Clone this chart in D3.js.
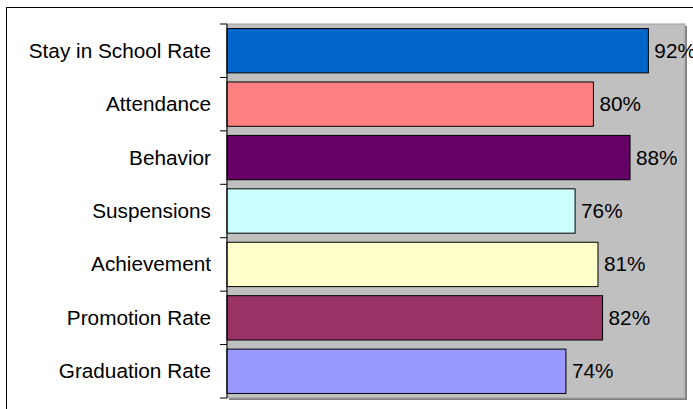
<!DOCTYPE html>
<html><head><meta charset="utf-8">
<script src="https://cdn.jsdelivr.net/npm/d3@7"></script>
<style>body{margin:0;background:#fff;}svg{display:block;}</style>
</head><body>
<svg id="c" width="693" height="409"></svg>
<script>
const categories = ["Stay in School Rate","Attendance","Behavior","Suspensions","Achievement","Promotion Rate","Graduation Rate"];
const values = [92, 80, 88, 76, 81, 82, 74];
const colors = ["#0066CC","#FF8080","#660066","#CCFFFF","#FFFFCC","#993366","#9999FF"];

(function(){
const svg = d3.select("#c");
const FONT = "Liberation Sans, Arial, sans-serif";
const FS = 19.5, SX = 1.065;
// outer chart border (clipped on right/bottom)
svg.append("rect").attr("x",6.5).attr("y",7.5).attr("width",700).attr("height",420)
  .attr("fill","#fff").attr("stroke","#000").attr("stroke-width",1);

const pL = 227, pR = 685, pT = 24, pB = 398;
const x = d3.scaleLinear().domain([0,100]).range([pL,pR]);
const y = d3.scaleBand().domain(categories).range([pT,pB]).paddingInner(0.17).paddingOuter(0.085);

// plot area shadow + fill
svg.append("rect").attr("x",pL+2).attr("y",pT+2).attr("width",pR-pL).attr("height",pB-pT).attr("fill","#808080");
svg.append("rect").attr("x",pL).attr("y",pT).attr("width",pR-pL).attr("height",pB-pT)
  .attr("fill","#C0C0C0").attr("stroke","#A0A0A0").attr("stroke-width",1);

svg.selectAll("rect.bar").data(values).enter().append("rect").attr("class","bar")
  .attr("x",x(0)).attr("y",(d,i)=>y(categories[i]))
  .attr("width",d=>x(d)-x(0)).attr("height",y.bandwidth())
  .attr("fill",(d,i)=>colors[i]).attr("stroke","#000").attr("stroke-width",1);

// axis
const band = (pB-pT)/categories.length;
const g = svg.append("g").attr("transform",`translate(${pL},0)`);
g.append("line").attr("x1",0).attr("x2",0).attr("y1",pT).attr("y2",pB).attr("stroke","#000");
const ticks = d3.range(categories.length+1).map(i=>pT+i*band);
g.selectAll("line.t").data(ticks).enter().append("line").attr("class","t")
  .attr("x1",-7).attr("x2",0).attr("y1",d=>d).attr("y2",d=>d).attr("stroke","#000");

svg.selectAll("text.cat").data(categories).enter().append("text").attr("class","cat")
  .attr("transform",d=>`translate(211,${y(d)+y.bandwidth()/2}) scale(${SX},1)`)
  .attr("dy","0.36em")
  .attr("text-anchor","end").attr("font-family",FONT)
  .attr("font-size",FS).attr("fill","#000").text(d=>d);

svg.selectAll("text.val").data(values).enter().append("text").attr("class","val")
  .attr("transform",(d,i)=>`translate(${x(d)+6},${y(categories[i])+y.bandwidth()/2}) scale(${SX},1)`)
  .attr("dy","0.36em")
  .attr("font-family",FONT)
  .attr("font-size",FS).attr("fill","#000").text(d=>d+"%");
})();
</script>
</body></html>
